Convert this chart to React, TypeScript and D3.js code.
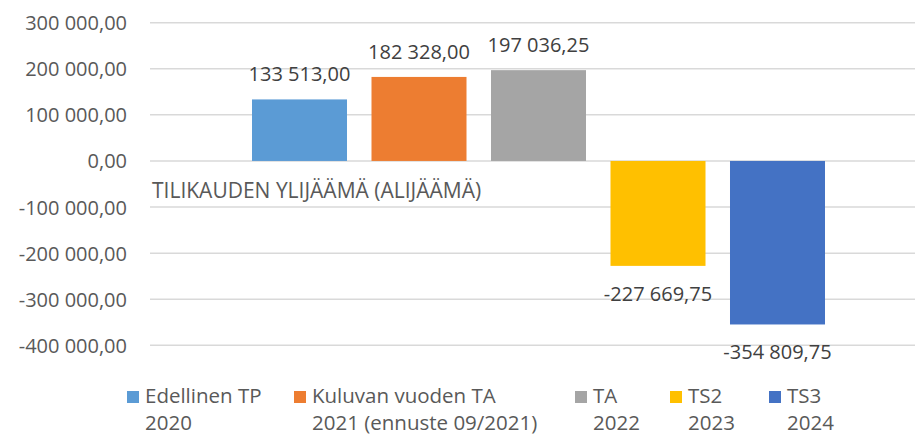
import React from "react";
import * as d3 from "d3";

const seriesNames = ["Edellinen TP", "Kuluvan vuoden TA", "TA", "TS2", "TS3"];
const seriesSub = ["2020", "2021 (ennuste 09/2021)", "2022", "2023", "2024"];
const values = [133513.0, 182328.0, 197036.25, -227669.75, -354809.75];
const colors = ["#5B9BD5", "#ED7D31", "#A5A5A5", "#FFC000", "#4472C4"];
const categoryLabel = "TILIKAUDEN YLIJÄÄMÄ (ALIJÄÄMÄ)";
const yTicks = [300000, 200000, 100000, 0, -100000, -200000, -300000, -400000];

const W = 915;
const H = 436;
const FONT = "'Open Sans', 'Noto Sans', sans-serif";

const locale = d3.formatLocale({
  decimal: ",",
  thousands: "\u00a0",
  grouping: [3],
  currency: ["", " €"],
  minus: "-",
});
const fmt = locale.format(",.2f");

// layout constants
const plotLeft = 150;
const plotRight = 927;
const legendTextX = [145, 312, 593, 688, 787];

export default function App() {
  const y = d3.scaleLinear().domain([-400000, 300000]).range([345.3, 22.7]);
  const x = d3
    .scaleBand<string>()
    .domain(seriesNames)
    .range([252, 825])
    .paddingInner(0.205)
    .paddingOuter(0);
  const y0 = y(0);

  return (
    <svg
      width={W}
      height={H}
      style={{ position: "absolute", left: 0, top: 0, background: "#fff" }}
      fontFamily={FONT}
    >
      <rect x={0} y={0} width={W} height={H} fill="#fff" />
      {yTicks.map((t) => (
        <g key={t}>
          <line
            x1={plotLeft}
            x2={plotRight}
            y1={y(t)}
            y2={y(t)}
            stroke="#d9d9d9"
            strokeWidth={1.5}
          />
          <text
            x={127}
            y={y(t) + 7.5}
            textAnchor="end"
            fontSize={20}
            fill="#595959"
          >
            {fmt(t)}
          </text>
        </g>
      ))}
      {values.map((v, i) => {
        const name = seriesNames[i];
        const top = Math.min(y(v), y0);
        const h = Math.abs(y(v) - y0);
        const cx = (x(name) as number) + x.bandwidth() / 2;
        return (
          <g key={name}>
            <rect
              x={x(name)}
              y={top}
              width={x.bandwidth()}
              height={h}
              fill={colors[i]}
            />
            <text
              x={cx}
              y={v >= 0 ? y(v) - 18 : y(v) + 35}
              textAnchor="middle"
              fontSize={20}
              fill="#404040"
            >
              {fmt(v)}
            </text>
          </g>
        );
      })}
      <text x={152} y={198} fontSize={21} fill="#595959">
        {categoryLabel}
      </text>
      {seriesNames.map((n, i) => (
        <g key={"lg" + n}>
          <rect
            x={legendTextX[i] - 18}
            y={391}
            width={12}
            height={12}
            fill={colors[i]}
          />
          <text x={legendTextX[i]} y={403} fontSize={20.5} fill="#595959">
            {n}
          </text>
          <text x={legendTextX[i]} y={430} fontSize={20.5} fill="#595959">
            {seriesSub[i]}
          </text>
        </g>
      ))}
    </svg>
  );
}
